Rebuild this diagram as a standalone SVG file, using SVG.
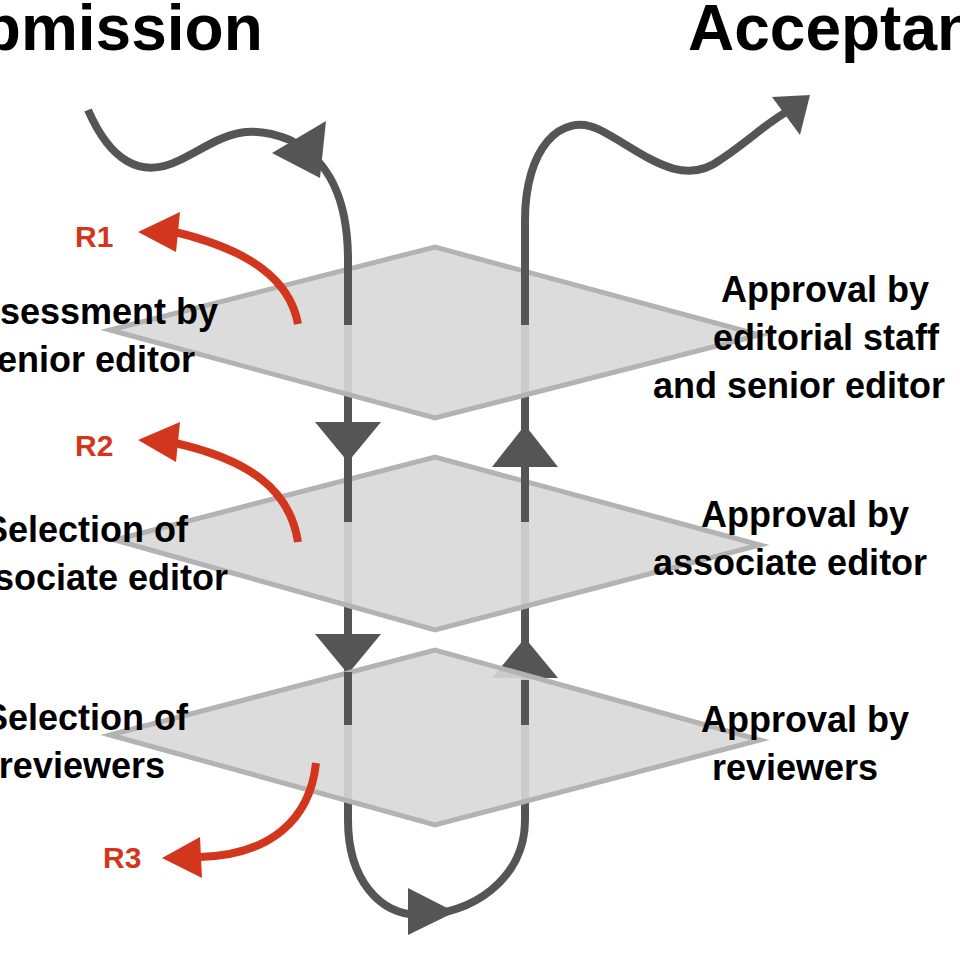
<svg xmlns="http://www.w3.org/2000/svg" width="960" height="960" viewBox="0 0 960 960">
<style>
text{font-family:"Liberation Sans",Arial,sans-serif;font-weight:bold;fill:#000}
.lbl{font-size:36px}
.title{font-size:64px}
.r{font-size:30px;fill:#d2361c}
.flow{fill:none;stroke:#555;stroke-width:8}
.red{fill:none;stroke:#d2361c;stroke-width:8}
.plane{fill:#d8d8d8;fill-opacity:0.9;stroke:#b3b3b3;stroke-width:5}
</style>
<rect width="960" height="960" fill="#fff"/>
<g id="connectors">
<path class="flow" d="M88,110 C110,160 140,180 180,160 C220,140 240,120 290,140 C330,160 348,200 348,260 L348,820 C348,880 380,915 420,915 C470,915 525,880 525,820 L525,220 C525,150 560,110 600,130 C640,150 680,190 720,160 C750,140 770,120 790,110"/>
<polygon points="272,153 326,121 320,178" fill="#555"/>
<polygon points="772,97 810,95 800,135" fill="#555"/>
<polygon points="408,888 455,912 408,935" fill="#555"/>
<polygon points="315,422 381,422 348,462" fill="#555"/>
<polygon points="315,634 381,634 348,674" fill="#555"/>
<polygon points="492,467 558,467 525,425" fill="#555"/>
<polygon points="492,678 558,678 525,638" fill="#555"/>
</g>
<g id="plane1"><polygon class="plane" points="110,330 435,247 760,335 435,418"/></g>
<g id="plane2"><polygon class="plane" points="115,540 435,457 760,545 435,630"/></g>
<g id="plane3"><polygon class="plane" points="110,735 435,650 760,740 435,825"/></g>
<g id="redarrows">
<path class="red" d="M298,324 C290,280 250,250 175,232"/>
<polygon points="138,232 180,212 176,252" fill="#d2361c"/>
<path class="red" d="M298,542 C290,490 250,460 175,443"/>
<polygon points="138,440 180,422 176,462" fill="#d2361c"/>
<path class="red" d="M316,763 C310,820 270,855 200,857"/>
<polygon points="162,858 200,837 202,878" fill="#d2361c"/>
</g>
<g id="flowlines-top">
<path class="flow" d="M348,260 L348,325 M525,220 L525,325 M348,460 L348,522 M525,470 L525,522 M348,672 L348,725 M525,680 L525,725"/>
</g>
<g id="labels">
<text class="title" x="-100" y="50">Submission</text>
<text class="title" x="688" y="50">Acceptance</text>
<text class="r" x="75" y="247">R1</text>
<text class="r" x="75" y="456">R2</text>
<text class="r" x="103" y="868">R3</text>
<text class="lbl" x="218" y="324" text-anchor="end">Assessment by</text>
<text class="lbl" x="195" y="372" text-anchor="end">senior editor</text>
<text class="lbl" x="188" y="542" text-anchor="end">Selection of</text>
<text class="lbl" x="228" y="590" text-anchor="end">associate editor</text>
<text class="lbl" x="188" y="730" text-anchor="end">Selection of</text>
<text class="lbl" x="165" y="778" text-anchor="end">reviewers</text>
<text class="lbl" x="825" y="302" text-anchor="middle">Approval by</text>
<text class="lbl" x="826" y="350" text-anchor="middle">editorial staff</text>
<text class="lbl" x="653" y="398">and senior editor</text>
<text class="lbl" x="805" y="527" text-anchor="middle">Approval by</text>
<text class="lbl" x="653" y="575">associate editor</text>
<text class="lbl" x="805" y="732" text-anchor="middle">Approval by</text>
<text class="lbl" x="795" y="780" text-anchor="middle">reviewers</text>
</g>
</svg>
